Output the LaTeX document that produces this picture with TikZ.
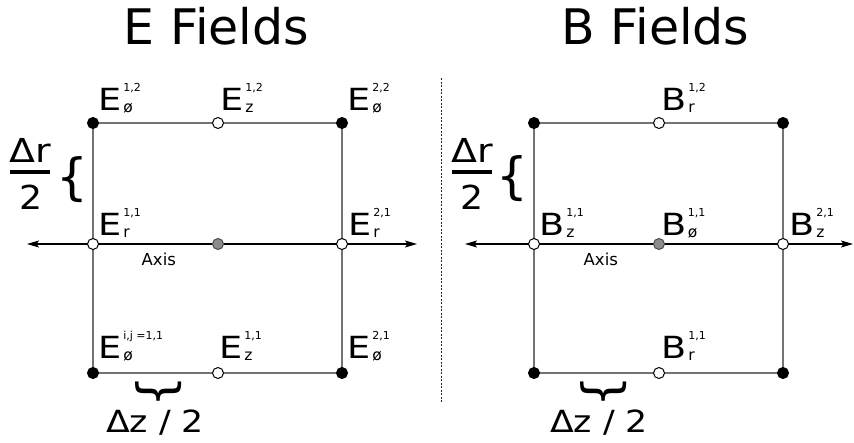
\documentclass[tikz,border=0pt]{standalone}
\usepackage{fontspec}
\setmainfont{DejaVu Sans}
\usetikzlibrary{arrows.meta}
\newcommand{\fl}[3]{\scalebox{1.2}[1]{\fontsize{30.5}{30.5}\selectfont #1}\kern1.5pt\rlap{\raisebox{19pt}{\fontsize{11}{11}\selectfont #3}}\raisebox{-2.5pt}{\fontsize{15.5}{15.5}\selectfont #2}}
\tikzset{
  gridline/.style={draw=black!55, line width=1.9pt},
  axisline/.style={draw=black, line width=1.1pt, {Stealth[length=12pt,width=7pt,inset=2.5pt]}-{Stealth[length=12pt,width=7pt,inset=2.5pt]}},
  dotbase/.style={circle, inner sep=0pt, minimum size=11pt, line width=1pt},
  blackdot/.style={dotbase, fill=black, draw=black},
  whitedot/.style={dotbase, fill=white, draw=black},
  graydot/.style={dotbase, fill=black!45, draw=black!70},
  lab/.style={anchor=base west, inner sep=0pt},
  title/.style={anchor=base, inner sep=0pt, font=\fontsize{49}{49}\selectfont},
  axlab/.style={anchor=base west, inner sep=0pt, font=\fontsize{16.5}{16.5}\selectfont},
  big/.style={anchor=base, inner sep=0pt, font=\fontsize{33}{33}\selectfont},
  brace/.style={anchor=center, inner sep=0pt, font=\fontsize{50}{50}\selectfont},
}
\begin{document}
\begin{tikzpicture}[x=1pt,y=-1pt]
\useasboundingbox (0,0) rectangle (854,442);
% titles
\node[title] (tE) at (216.5,44) {E Fields};
\node[title] (tB) at (655.5,44) {B Fields};
% divider
\coordinate (d1) at (441.7,78);
\coordinate (d2) at (441.7,402);
\draw[black!85, line width=1.3pt, dash pattern=on 2.2pt off 1.3pt] (d1) -- (d2);

% ---------- left panel ----------
\coordinate (ETL) at (93,123);  \coordinate (ETM) at (218,123); \coordinate (ETR) at (342,123);
\coordinate (EAL) at (93,244);  \coordinate (EAM) at (218,244); \coordinate (EAR) at (342,244);
\coordinate (EBL) at (93,373);  \coordinate (EBM) at (218,373); \coordinate (EBR) at (342,373);
\coordinate (EaxL) at (27,244); \coordinate (EaxR) at (417,244);
\draw[gridline] (ETL) -- (ETM) -- (ETR) -- (EBR) -- (EBM) -- (EBL) -- cycle;
\draw[axisline] (EaxL) -- (EaxR);
\node[blackdot] (eTL) at (ETL) {}; \node[whitedot] (eTM) at (ETM) {}; \node[blackdot] (eTR) at (ETR) {};
\node[whitedot] (eAL) at (EAL) {}; \node[graydot] (eAM) at (EAM) {}; \node[whitedot] (eAR) at (EAR) {};
\node[blackdot] (eBL) at (EBL) {}; \node[whitedot] (eBM) at (EBM) {}; \node[blackdot] (eBR) at (EBR) {};

\node[lab] (l1) at (98.5,110) {\fl{E}{ø}{1,2}};
\node[lab] (l2) at (220.5,110) {\fl{E}{z}{1,2}};
\node[lab] (l3) at (347.5,110) {\fl{E}{ø}{2,2}};
\node[lab] (l4) at (98.5,235) {\fl{E}{r}{1,1}};
\node[lab] (l5) at (348.5,235) {\fl{E}{r}{2,1}};
\node[lab] (l6) at (98.5,358) {\fl{E}{ø}{i,j =1,1}};
\node[lab] (l7) at (219.5,358) {\fl{E}{z}{1,1}};
\node[lab] (l8) at (347.5,358) {\fl{E}{ø}{2,1}};
\node[axlab] (ax1) at (141.5,265) {Axis};

\node[big] (dr1) at (30.5,162) {\scalebox{1.15}[1]{Δr}};
\node[big] (two1) at (31,209) {\scalebox{1.1}[1]{2}};
\coordinate (bar1a) at (10,172); \coordinate (bar1b) at (50,172);
\draw[line width=3.2pt] (bar1a) -- (bar1b);
\node[brace] (br1) at (72.5,179.5) {\{};
\node[brace, rotate=90] (bz1) at (159,392) {\{};
\node[big, font=\fontsize{30.5}{30.5}\selectfont] (dz1) at (155,432) {\scalebox{1.14}[1]{Δz / 2}};

% ---------- right panel ----------
\coordinate (BTL) at (534,123);  \coordinate (BTM) at (659,123); \coordinate (BTR) at (783,123);
\coordinate (BAL) at (534,244);  \coordinate (BAM) at (659,244); \coordinate (BAR) at (783,244);
\coordinate (BBL) at (534,373);  \coordinate (BBM) at (659,373); \coordinate (BBR) at (783,373);
\coordinate (BaxL) at (465,244); \coordinate (BaxR) at (853,244);
\draw[gridline] (BTL) -- (BTM) -- (BTR) -- (BBR) -- (BBM) -- (BBL) -- cycle;
\draw[axisline] (BaxL) -- (BaxR);
\node[blackdot] (bTL) at (BTL) {}; \node[whitedot] (bTM) at (BTM) {}; \node[blackdot] (bTR) at (BTR) {};
\node[whitedot] (bAL) at (BAL) {}; \node[graydot] (bAM) at (BAM) {}; \node[whitedot] (bAR) at (BAR) {};
\node[blackdot] (bBL) at (BBL) {}; \node[whitedot] (bBM) at (BBM) {}; \node[blackdot] (bBR) at (BBR) {};

\node[lab] (m1) at (661.5,110) {\fl{B}{r}{1,2}};
\node[lab] (m2) at (539.5,235) {\fl{B}{z}{1,1}};
\node[lab] (m3) at (661,235) {\fl{B}{ø}{1,1}};
\node[lab] (m4) at (789.5,235) {\fl{B}{z}{2,1}};
\node[lab] (m5) at (661.5,358) {\fl{B}{r}{1,1}};
\node[axlab] (ax2) at (583.5,265) {Axis};

\node[big] (dr2) at (472.5,162) {\scalebox{1.15}[1]{Δr}};
\node[big] (two2) at (472,209) {\scalebox{1.1}[1]{2}};
\coordinate (bar2a) at (452,172); \coordinate (bar2b) at (492,172);
\draw[line width=3.2pt] (bar2a) -- (bar2b);
\node[brace] (br2) at (512.5,178.5) {\{};
\node[brace, rotate=90] (bz2) at (604,392) {\{};
\node[big, font=\fontsize{30.5}{30.5}\selectfont] (dz2) at (599,432) {\scalebox{1.14}[1]{Δz / 2}};
\end{tikzpicture}
\end{document}
